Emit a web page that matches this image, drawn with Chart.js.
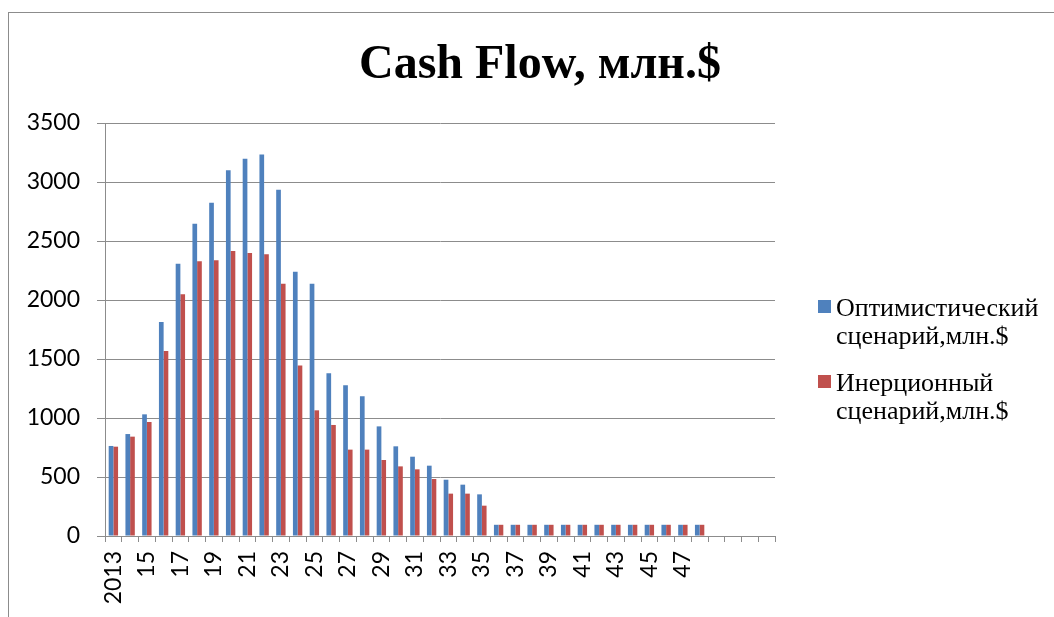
<!DOCTYPE html>
<html>
<head>
    <meta charset="utf-8">
    <script src="https://cdn.jsdelivr.net/npm/chart.js"></script>
    <style>
        body { margin: 0; background: #fff; }
        #wrap { position: relative; width: 1054px; height: 617px; overflow: hidden; }
        #frame { position: absolute; left: 8px; top: 12px; right: -2px; bottom: -2px; border-left: 1px solid #8c8c8c; border-top: 1px solid #8c8c8c; }
        #title { position: absolute; left: 0; width: 1080px; top: 33px; text-align: center;
                 font: bold 48px "Liberation Serif", "Times New Roman", serif; line-height: 57px; color: #000; }
        #legend { position: absolute; left: 818px; top: 294px; font: 26px "Liberation Serif", serif; color: #000; }
        .item { position: relative; padding-left: 18px; line-height: 28px; margin-bottom: 19px; white-space: nowrap; }
        .box { position: absolute; left: 0; top: 6px; width: 13px; height: 13px; }
    </style>
</head>
<body>
<div id="wrap">
    <div id="frame"></div>
    <canvas id="bar-chart" width="1054" height="617" style="position:absolute;left:0;top:0"></canvas>
    <div id="title">Cash Flow, млн.$</div>
    <div id="legend"></div>
</div>
<script>
    // years 2013..2048 with data, then four empty slots
    var years = ['2013','14','15','16','17','18','19','20','21','22','23','24','25','26','27','28','29','30',
                 '31','32','33','34','35','36','37','38','39','40','41','42','43','44','45','46','47','48',
                 '','','',''];
    var optimistic = [763, 864, 1031, 1814, 2308, 2647, 2825, 3099, 3198, 3232, 2935, 2240, 2138, 1379, 1277,
                      1184, 929, 760, 672, 596, 477, 435, 353,
                      95, 95, 95, 95, 95, 95, 95, 95, 95, 95, 95, 95, 95];
    var inertial = [757, 842, 966, 1568, 2048, 2328, 2336, 2415, 2398, 2387, 2138, 1444, 1065, 941, 732,
                    732, 644, 590, 565, 483, 359, 359, 257,
                    95, 95, 95, 95, 95, 95, 95, 95, 95, 95, 95, 95, 95];
    var seriesNames = ['Оптимистический сценарий,млн.$', 'Инерционный сценарий,млн.$'];
    var seriesColors = ['#4F81BD', '#C0504D'];
    var yTicks = [0, 500, 1000, 1500, 2000, 2500, 3000, 3500];

    Chart.defaults.font.family = 'Lato';
    Chart.defaults.font.size = 23;
    Chart.defaults.color = '#000';

    var gridColor = '#8c8c8c';

    new Chart(document.getElementById('bar-chart'), {
        type: 'bar',
        data: {
            labels: years,
            datasets: [
                { label: seriesNames[0], data: optimistic, backgroundColor: seriesColors[0] },
                { label: seriesNames[1], data: inertial, backgroundColor: seriesColors[1] }
            ]
        },
        options: {
            responsive: false,
            animation: false,
            categoryPercentage: 0.56,
            barPercentage: 1,
            layout: { padding: { top: 123, right: 279, bottom: 0, left: 0 } },
            plugins: { legend: { display: false }, title: { display: false }, tooltip: { enabled: false } },
            scales: {
                x: {
                    grid: { drawOnChartArea: false, drawTicks: true, tickLength: 6, color: gridColor, offset: true },
                    border: { color: gridColor },
                    ticks: {
                        autoSkip: false, minRotation: 90, maxRotation: 90, padding: 9,
                        callback: function (v, i) { return i % 2 === 0 ? years[i] : ''; }
                    },
                    afterFit: function (s) { s.height = 81; }
                },
                y: {
                    min: 0, max: 3500,
                    afterBuildTicks: function (s) { s.ticks = yTicks.map(function (v) { return { value: v }; }); },
                    grid: { color: gridColor, tickLength: 8 },
                    border: { color: gridColor },
                    ticks: { padding: 17, callback: function (v) { return String(v); } },
                    afterFit: function (s) { s.width = 105; }
                }
            }
        }
    });

    var legend = document.getElementById('legend');
    seriesNames.forEach(function (name, i) {
        var parts = name.split(' ');
        var item = document.createElement('div');
        item.className = 'item';
        item.innerHTML = '<span class="box" style="background:' + seriesColors[i] + '"></span>' +
            parts[0] + '<br>' + parts[1];
        legend.appendChild(item);
    });
</script>
</body>
</html>
